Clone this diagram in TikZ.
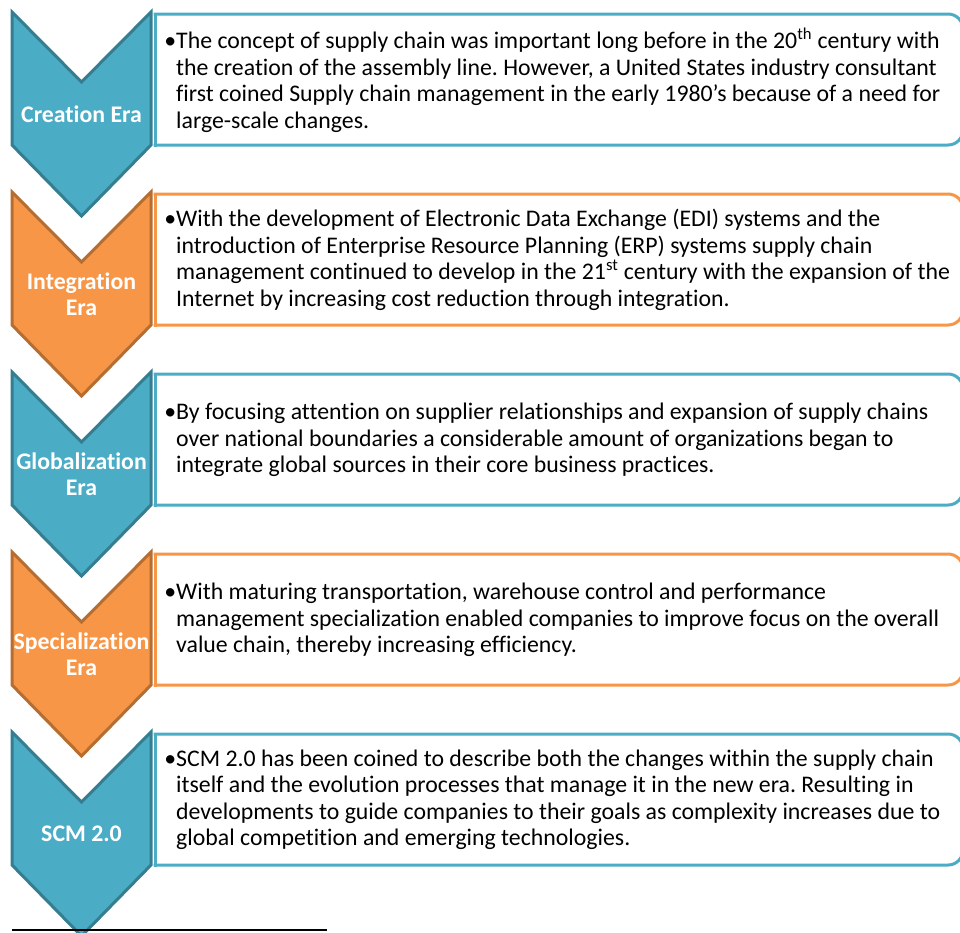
\documentclass[tikz,border=0pt]{standalone}
\usepackage{fontspec}
\setmainfont{Carlito}[Ligatures=NoCommon]
\frenchspacing
\definecolor{eraBlue}{HTML}{4BACC6}
\definecolor{eraBlueDark}{HTML}{357D91}
\definecolor{eraOrange}{HTML}{F79646}
\definecolor{eraOrangeDark}{HTML}{B66D31}

\tikzset{
  chevron/.style={line width=3pt, line join=miter},
  boxline/.style={line width=3pt, line cap=rect},
  eralabel/.style={font=\bfseries\fontsize{23.8}{26.5}\selectfont, text=white, align=center, inner sep=0pt},
  eratext/.style={font=\fontsize{23.8}{26.5}\selectfont, align=left, anchor=west, inner sep=0pt},
}

% one era: top y, fill, border
\newcommand{\EraChevron}[3]{%
  \filldraw[chevron, fill=#2, draw=#3] (12,#1) -- (81.5,#1+70) -- (151,#1) -- (151,#1+133) -- (81.5,#1+204) -- (12,#1+133) -- cycle;}
\newcommand{\EraBox}[2]{%
  \fill[white] (155,#1+2) rectangle (963,#1+133);
  \draw[boxline, rounded corners=15pt, draw=#2] (155,#1+2) -- (963,#1+2) -- (963,#1+133) -- (155,#1+133);
  \draw[boxline, draw=#2] (155,#1+2) -- (155,#1+133);}

\begin{document}
\begin{tikzpicture}[x=1pt, y=-1pt]
\useasboundingbox (0,0) rectangle (960,932);
\clip (0,0) rectangle (960,932);

\EraBox{12}{eraBlue}
\EraChevron{12}{eraBlue}{eraBlueDark}
\node[eralabel] (e1) at (81.5,114) {Creation Era};
\node[eratext] (t1) at (176,80) {\llap{•}The concept of supply chain was important long before in the 20\textsuperscript{th} century with\\
the creation of the assembly line. However, a United States industry consultant\\
first coined Supply chain management in the early 1980’s because of a need for\\
large-scale changes.};

\EraBox{192}{eraOrange}
\EraChevron{192}{eraOrange}{eraOrangeDark}
\node[eralabel] (e2) at (81.5,294) {Integration\\Era};
\node[eratext] (t2) at (176,260) {\llap{•}With the development of Electronic Data Exchange (EDI) systems and the\\
introduction of Enterprise Resource Planning (ERP) systems supply chain\\
management continued to develop in the 21\textsuperscript{st} century with the expansion of the\\
Internet by increasing cost reduction through integration.};

\EraBox{372}{eraBlue}
\EraChevron{372}{eraBlue}{eraBlueDark}
\node[eralabel] (e3) at (81.5,474) {Globalization\\Era};
\node[eratext] (t3) at (176,440) {\llap{•}By focusing attention on supplier relationships and expansion of supply chains\\
over national boundaries a considerable amount of organizations began to\\
integrate global sources in their core business practices.};

\EraBox{552}{eraOrange}
\EraChevron{552}{eraOrange}{eraOrangeDark}
\node[eralabel] (e4) at (81.5,654) {Specialization\\Era};
\node[eratext] (t4) at (176,620) {\llap{•}With maturing transportation, warehouse control and performance\\
management specialization enabled companies to improve focus on the overall\\
value chain, thereby increasing efficiency.};

\EraBox{732}{eraBlue}
\EraChevron{732}{eraBlue}{eraBlueDark}
\node[eralabel] (e5) at (81.5,834) {SCM 2.0};
\node[eratext] (t5) at (176,800) {\llap{•}SCM 2.0 has been coined to describe both the changes within the supply chain\\
itself and the evolution processes that manage it in the new era. Resulting in\\
developments to guide companies to their goals as complexity increases due to\\
global competition and emerging technologies.};

% footnote rule
\draw[line width=2pt] (12,930) -- (327,930);

\end{tikzpicture}
\end{document}
